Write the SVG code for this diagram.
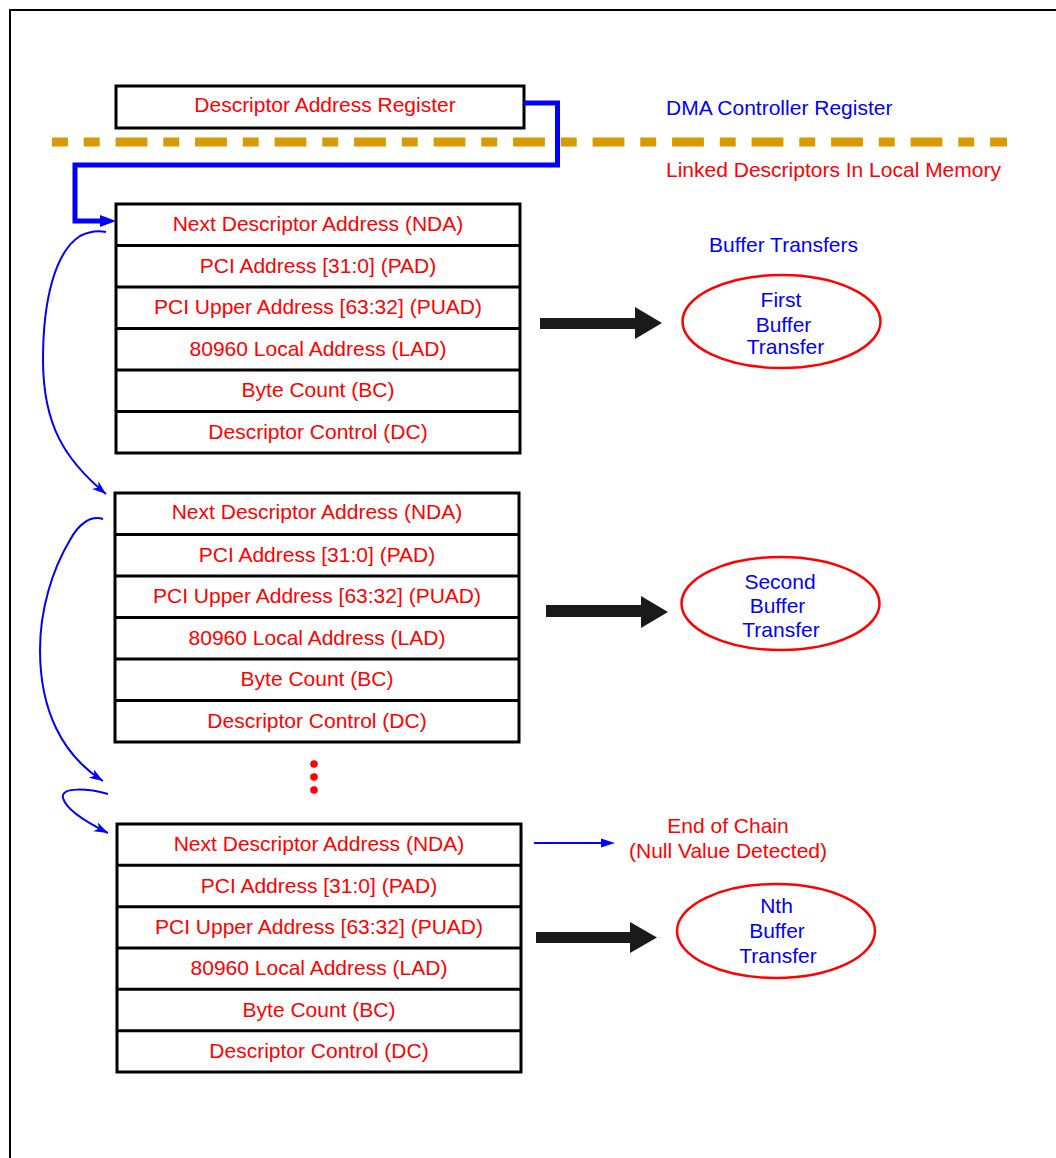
<svg xmlns="http://www.w3.org/2000/svg" width="1056" height="1158" viewBox="0 0 1056 1158">
  <style>
    .box{fill:#fff;stroke:#000;stroke-width:3}
    .sep{stroke:#000;stroke-width:3}
    .txt{font-family:"Liberation Sans",Arial,Helvetica,sans-serif;font-size:21px}
    .red{fill:#ff0000}
    .blue{fill:#0000ff}
    .mid{text-anchor:middle}
    .oval{fill:none;stroke:#ff0000;stroke-width:2.5}
    .fat{fill:#1a1a1a}
    .link{fill:none;stroke:#0000ff;stroke-width:2}
  </style>
  <defs>
    <marker id="hook" markerUnits="userSpaceOnUse" markerWidth="16" markerHeight="12" refX="14" refY="5" orient="auto">
      <path d="M0,0 L14,5 L0,10 L4,5 z" fill="#0000ff"/>
    </marker>
  </defs>

  <rect width="1056" height="1158" fill="#fff"/>

  <!-- page frame (top and left edges) -->
  <path d="M10,1158 V10 H1056" fill="none" stroke="#000" stroke-width="2"/>

  <!-- boundary between controller register and local memory -->
  <line x1="52" y1="142" x2="1007" y2="142" stroke="#d89a00" stroke-width="9" stroke-dasharray="31.8 15.9 15.9 15.9" stroke-dashoffset="15.9"/>

  <text class="txt blue" x="666" y="115">DMA Controller Register</text>
  <text class="txt red" x="666" y="177">Linked Descriptors In Local Memory</text>
  <text class="txt blue mid" x="783.5" y="252">Buffer Transfers</text>

  <g id="dar">
    <rect class="box" x="116" y="86" width="408" height="42"/>
    <text class="txt red mid" x="325" y="112">Descriptor Address Register</text>
  </g>

  <g id="desc1">
    <rect class="box" x="116" y="204" width="404" height="249"/>
    <line class="sep" x1="116" y1="245.5" x2="520" y2="245.5"/>
    <line class="sep" x1="116" y1="287" x2="520" y2="287"/>
    <line class="sep" x1="116" y1="328.5" x2="520" y2="328.5"/>
    <line class="sep" x1="116" y1="370" x2="520" y2="370"/>
    <line class="sep" x1="116" y1="411.5" x2="520" y2="411.5"/>
    <text class="txt red mid" x="318" y="231">Next Descriptor Address (NDA)</text>
    <text class="txt red mid" x="318" y="273">PCI Address [31:0] (PAD)</text>
    <text class="txt red mid" x="318" y="314">PCI Upper Address [63:32] (PUAD)</text>
    <text class="txt red mid" x="318" y="356">80960 Local Address (LAD)</text>
    <text class="txt red mid" x="318" y="397">Byte Count (BC)</text>
    <text class="txt red mid" x="318" y="439">Descriptor Control (DC)</text>
  </g>

  <g id="desc2">
    <rect class="box" x="115" y="493" width="404" height="249"/>
    <line class="sep" x1="115" y1="534.5" x2="519" y2="534.5"/>
    <line class="sep" x1="115" y1="576" x2="519" y2="576"/>
    <line class="sep" x1="115" y1="617.5" x2="519" y2="617.5"/>
    <line class="sep" x1="115" y1="659" x2="519" y2="659"/>
    <line class="sep" x1="115" y1="700.5" x2="519" y2="700.5"/>
    <text class="txt red mid" x="317" y="519">Next Descriptor Address (NDA)</text>
    <text class="txt red mid" x="317" y="561.5">PCI Address [31:0] (PAD)</text>
    <text class="txt red mid" x="317" y="603">PCI Upper Address [63:32] (PUAD)</text>
    <text class="txt red mid" x="317" y="644.5">80960 Local Address (LAD)</text>
    <text class="txt red mid" x="317" y="686">Byte Count (BC)</text>
    <text class="txt red mid" x="317" y="727.5">Descriptor Control (DC)</text>
  </g>

  <g id="ellipsis" fill="#ff0000">
    <circle cx="314" cy="764" r="3.8"/>
    <circle cx="314" cy="777" r="3.8"/>
    <circle cx="314" cy="790" r="3.8"/>
  </g>

  <g id="desc3">
    <rect class="box" x="117" y="824" width="404" height="248"/>
    <line class="sep" x1="117" y1="865.3" x2="521" y2="865.3"/>
    <line class="sep" x1="117" y1="906.7" x2="521" y2="906.7"/>
    <line class="sep" x1="117" y1="948" x2="521" y2="948"/>
    <line class="sep" x1="117" y1="989.3" x2="521" y2="989.3"/>
    <line class="sep" x1="117" y1="1030.7" x2="521" y2="1030.7"/>
    <text class="txt red mid" x="319" y="851">Next Descriptor Address (NDA)</text>
    <text class="txt red mid" x="319" y="892.5">PCI Address [31:0] (PAD)</text>
    <text class="txt red mid" x="319" y="934">PCI Upper Address [63:32] (PUAD)</text>
    <text class="txt red mid" x="319" y="975">80960 Local Address (LAD)</text>
    <text class="txt red mid" x="319" y="1016.5">Byte Count (BC)</text>
    <text class="txt red mid" x="319" y="1058">Descriptor Control (DC)</text>
  </g>

  <g id="xfer1">
    <ellipse class="oval" cx="781.5" cy="321.5" rx="99" ry="46.5"/>
    <text class="txt blue mid" x="781" y="307">First</text>
    <text class="txt blue mid" x="783.5" y="332">Buffer</text>
    <text class="txt blue mid" x="785.5" y="354">Transfer</text>
  </g>

  <g id="xfer2">
    <ellipse class="oval" cx="780.5" cy="603.5" rx="99" ry="46.5"/>
    <text class="txt blue mid" x="780" y="589">Second</text>
    <text class="txt blue mid" x="777.5" y="613">Buffer</text>
    <text class="txt blue mid" x="781" y="637">Transfer</text>
  </g>

  <g id="xfer3">
    <ellipse class="oval" cx="776" cy="931" rx="99" ry="47"/>
    <text class="txt blue mid" x="776.5" y="913">Nth</text>
    <text class="txt blue mid" x="777" y="938">Buffer</text>
    <text class="txt blue mid" x="778" y="963">Transfer</text>
  </g>

  <g id="end-of-chain">
    <text class="txt red mid" x="728" y="833">End of Chain</text>
    <text class="txt red mid" x="728" y="858">(Null Value Detected)</text>
  </g>

  <g id="connectors">
    <!-- register points at the first descriptor -->
    <path d="M524,103 H557.5 V165 H75 V221 H104" fill="none" stroke="#0000ff" stroke-width="5"/>
    <polygon points="100,215 116,221 100,227" fill="#0000ff"/>

    <!-- descriptor chain links -->
    <path class="link" marker-end="url(#hook)" d="M106,232 C96,230 88,232 80,236 C55,252 43,300 43,360 C43,425 65,460 106,494"/>
    <path class="link" marker-end="url(#hook)" d="M103,519 C90,515 78,525 70,540 C52,570 40,610 40,650 C40,710 62,755 103,781"/>
    <path class="link" marker-end="url(#hook)" d="M108,794 C90,789 60,786 63,798 C66,810 90,824 108,833"/>

    <!-- null NDA ends the chain -->
    <line x1="534" y1="843" x2="605" y2="843" stroke="#0000ff" stroke-width="2"/>
    <polygon points="601,838.5 615,843 601,847.5" fill="#0000ff"/>

    <!-- descriptor to buffer transfer -->
    <polygon class="fat" points="540,318 635,318 635,307 662,323 635,339 635,329 540,329"/>
    <polygon class="fat" points="546,605 641,605 641,596 668,612 641,628 641,617 546,617"/>
    <polygon class="fat" points="536,932 630,932 630,922 657,937.5 630,953 630,943 536,943"/>
  </g>
</svg>
